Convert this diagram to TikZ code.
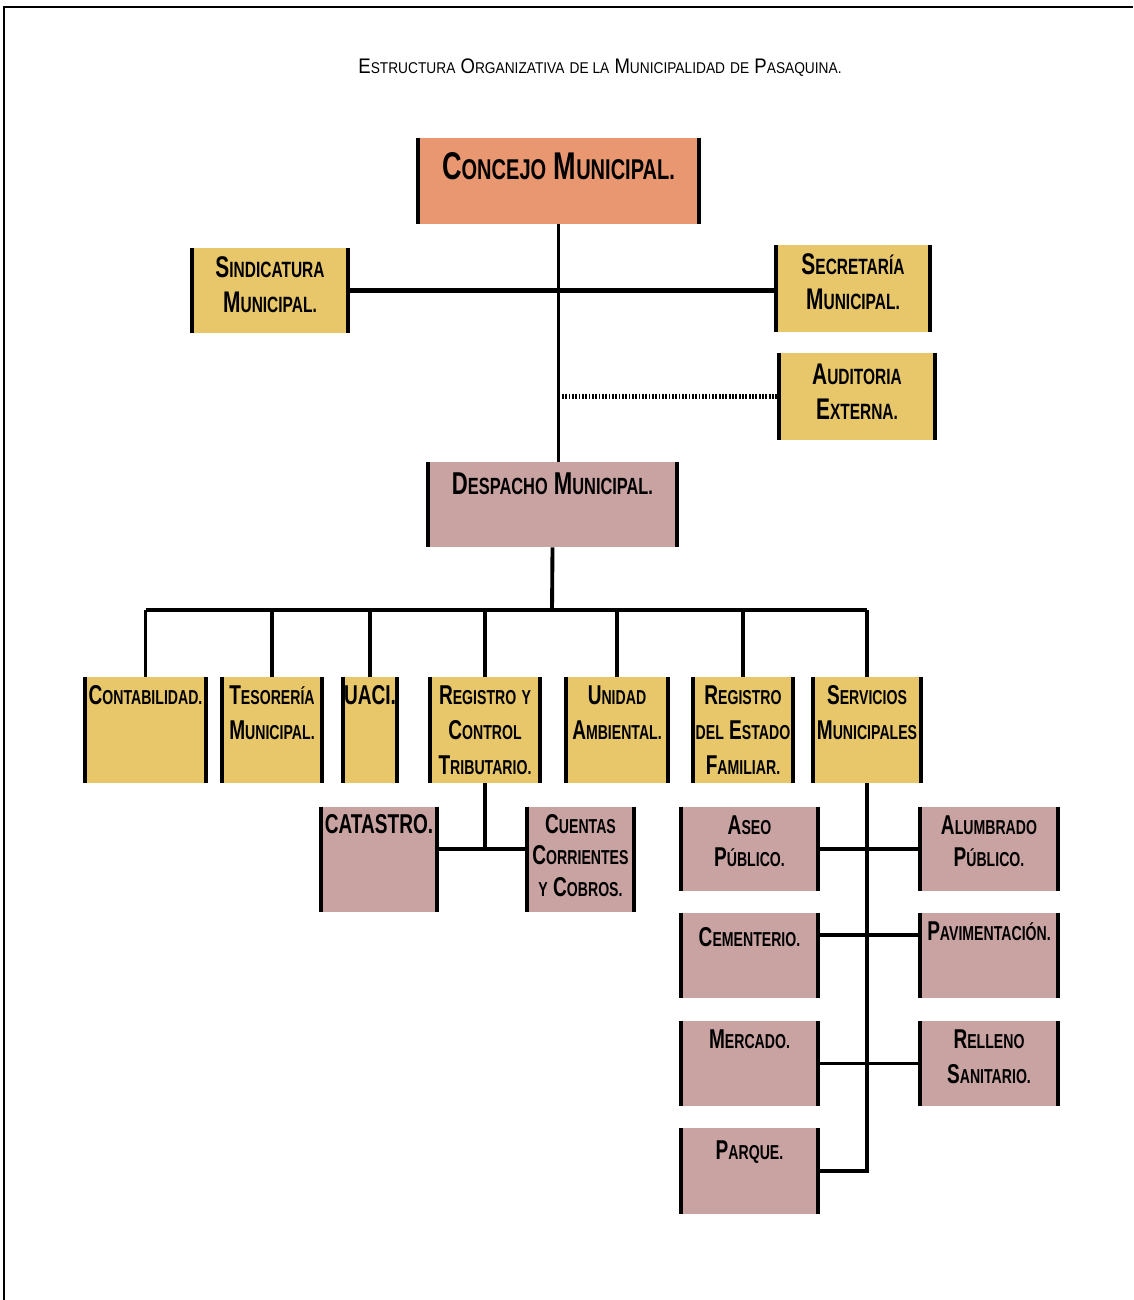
\documentclass[tikz,border=0pt]{standalone}
\usepackage{fontspec}
\usepackage{graphicx}
\usepackage{xcolor}
\usetikzlibrary{positioning,fit}
\newfontfamily\orgfont[FakeStretch=0.7]{Liberation Sans}
\newfontfamily\titlefont[FakeStretch=0.88]{Liberation Sans}
% small caps by hand: first letter full size, the rest scaled down
\newcommand{\scap}[2]{#1\scalebox{0.74}{#2}}
\definecolor{councilorange}{RGB}{232,151,112}
\definecolor{unitgold}{RGB}{231,199,106}
\definecolor{deptrose}{RGB}{201,162,162}

\begin{document}
\begin{tikzpicture}[
  x=0.02cm,y=-0.02cm,
  box/.style={fill=#1,draw=none,inner sep=0pt},
  lbl/.style={align=center,inner sep=0pt,font=\orgfont\bfseries\fontsize{15.5}{20}\selectfont},
  midlbl/.style={lbl,font=\orgfont\bfseries\fontsize{17}{20}\selectfont},
  side/.style={line width=2.4pt},
  conn/.style={line width=2.2pt},
  aux/.style={line width=2.6pt,dash pattern=on 1pt off 0.9pt}
]
\useasboundingbox (0,0) rectangle (1133,1300);
% page frame (top and left only)
\draw[line width=1.1pt] (4,1300) -- (4,7) -- (1133,7);
% Title
\node[font=\titlefont\fontsize{12}{14}\selectfont,inner sep=0pt] (title) at (600,68)
  {\scap{E}{STRUCTURA} \scap{O}{RGANIZATIVA} \scap{}{DE LA} \scap{M}{UNICIPALIDAD} \scap{}{DE} \scap{P}{ASAQUINA.}};
% Top level
\node[box=councilorange,fit={(418,138) (699,224)}] (concejo) {};
\node[box=unitgold,fit={(192,248) (348,333)}] (sindicatura) {};
\node[box=unitgold,fit={(776,245) (930,332)}] (secretaria) {};
\node[box=unitgold,fit={(779,353) (935,440)}] (auditoria) {};
\node[box=deptrose,fit={(428,462) (677,547)}] (despacho) {};
% Units (yellow row)
\node[box=unitgold,fit={(85,677) (206,783)}] (contabilidad) {};
\node[box=unitgold,fit={(222,677) (322,783)}] (tesoreria) {};
\node[box=unitgold,fit={(343,677) (397,783)}] (uaci) {};
\node[box=unitgold,fit={(430,677) (540,783)}] (registro) {};
\node[box=unitgold,fit={(566,677) (668,783)}] (ambiental) {};
\node[box=unitgold,fit={(693,677) (793,783)}] (familiar) {};
\node[box=unitgold,fit={(813,677) (921,783)}] (servicios) {};
% Sections (rose)
\node[box=deptrose,fit={(321,807) (437,912)}] (catastro) {};
\node[box=deptrose,fit={(527,807) (634,912)}] (cuentas) {};
\node[box=deptrose,fit={(681,807) (818,891)}] (aseo) {};
\node[box=deptrose,fit={(920,807) (1058,891)}] (alumbrado) {};
\node[box=deptrose,fit={(681,913) (818,998)}] (cementerio) {};
\node[box=deptrose,fit={(920,913) (1058,998)}] (pavimentacion) {};
\node[box=deptrose,fit={(681,1021) (818,1106)}] (mercado) {};
\node[box=deptrose,fit={(920,1021) (1058,1106)}] (relleno) {};
\node[box=deptrose,fit={(681,1128) (818,1214)}] (parque) {};
% black sides of every box
\foreach \n in {concejo,sindicatura,secretaria,auditoria,despacho,
    contabilidad,tesoreria,uaci,registro,ambiental,familiar,servicios,
    catastro,cuentas,aseo,alumbrado,cementerio,pavimentacion,mercado,relleno,parque}
  \draw[side] (\n.north west) -- (\n.south west) (\n.north east) -- (\n.south east);
% Texts
\node[lbl,font=\orgfont\bfseries\fontsize{22}{26}\selectfont,below=8pt of concejo.north] (concejo-t)
  {\scap{C}{ONCEJO} \scap{M}{UNICIPAL.}};
\node[midlbl,below=5pt of sindicatura.north] (sindicatura-t) {\scap{S}{INDICATURA}\\\scap{M}{UNICIPAL.}};
\node[midlbl,below=5pt of secretaria.north] (secretaria-t) {\scap{S}{ECRETARÍA}\\\scap{M}{UNICIPAL.}};
\node[midlbl,below=6pt of auditoria.north] (auditoria-t) {\scap{A}{UDITORIA}\\\scap{E}{XTERNA.}};
\node[lbl,font=\orgfont\bfseries\fontsize{18}{22}\selectfont,below=6pt of despacho.north] (despacho-t)
  {\scap{D}{ESPACHO} \scap{M}{UNICIPAL.}};
\node[lbl,below=5pt of contabilidad.north] (contabilidad-t) {\scap{C}{ONTABILIDAD.}};
\node[lbl,below=5pt of tesoreria.north] (tesoreria-t) {\scap{T}{ESORERÍA}\\\scap{M}{UNICIPAL.}};
\node[lbl,below=5pt of uaci.north] (uaci-t) {UACI.};
\node[lbl,below=5pt of registro.north] (registro-t) {\scap{R}{EGISTRO} \scap{}{Y}\\\scap{C}{ONTROL}\\\scap{T}{RIBUTARIO.}};
\node[lbl,below=5pt of ambiental.north] (ambiental-t) {\scap{U}{NIDAD}\\\scap{A}{MBIENTAL.}};
\node[lbl,below=5pt of familiar.north] (familiar-t) {\scap{R}{EGISTRO}\\\scap{}{DEL} \scap{E}{STADO}\\\scap{F}{AMILIAR.}};
\node[lbl,below=5pt of servicios.north] (servicios-t) {\scap{S}{ERVICIOS}\\\scap{M}{UNICIPALES}};
\node[lbl,below=4pt of catastro.north] (catastro-t) {CATASTRO.};
\node[lbl,below=4pt of cuentas.north,font=\orgfont\bfseries\fontsize{15.5}{18}\selectfont] (cuentas-t)
  {\scap{C}{UENTAS}\\\scap{C}{ORRIENTES}\\\scap{}{Y} \scap{C}{OBROS.}};
\node[lbl,below=5pt of aseo.north,font=\orgfont\bfseries\fontsize{15.5}{18}\selectfont] (aseo-t) {\scap{A}{SEO}\\\scap{P}{ÚBLICO.}};
\node[lbl,below=5pt of alumbrado.north,font=\orgfont\bfseries\fontsize{15.5}{18}\selectfont] (alumbrado-t) {\scap{A}{LUMBRADO}\\\scap{P}{ÚBLICO.}};
\node[lbl,below=8pt of cementerio.north] (cementerio-t) {\scap{C}{EMENTERIO.}};
\node[lbl,below=5pt of pavimentacion.north] (pavimentacion-t) {\scap{P}{AVIMENTACIÓN.}};
\node[lbl,below=5pt of mercado.north] (mercado-t) {\scap{M}{ERCADO.}};
\node[lbl,below=5pt of relleno.north] (relleno-t) {\scap{R}{ELLENO}\\\scap{S}{ANITARIO.}};
\node[lbl,below=7pt of parque.north] (parque-t) {\scap{P}{ARQUE.}};
% Connectors: top level
\draw[conn,line width=1.8pt] (concejo.south) -- (concejo.south |- despacho.north);
\draw[conn,line width=2.6pt] (sindicatura.east) -- (sindicatura.east -| secretaria.west);
\draw[aux] (concejo.south |- auditoria.west) -- (auditoria.west);
% Connectors: despacho to units
\coordinate (bus) at (552,610);
\draw[conn] (despacho.south) -- (bus);
\draw[conn,line width=2.6pt] (contabilidad.north |- bus) -- (servicios.north |- bus);
\foreach \n in {contabilidad,tesoreria,uaci,registro,ambiental,familiar,servicios}
  \draw[conn] (\n.north |- bus) -- (\n.north);
% Registro y Control Tributario
\coordinate (tribj) at (485,849);
\draw[conn] (registro.south) -- (tribj);
\draw[conn] (catastro.east |- tribj) -- (cuentas.west |- tribj);
% Servicios Municipales
\coordinate (cemj) at (869,935);
\draw[conn] (servicios.south) -- (servicios.south |- parque.east) -- (parque.east);
\draw[conn] (aseo.east) -- (alumbrado.west);
\draw[conn] (cementerio.east |- cemj) -- (pavimentacion.west |- cemj);
\draw[conn] (mercado.east) -- (relleno.west);
\end{tikzpicture}
\end{document}
